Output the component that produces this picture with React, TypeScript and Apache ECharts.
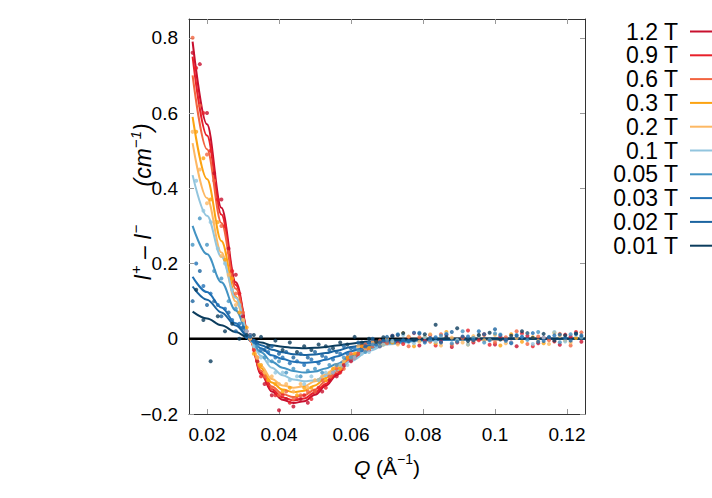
import React, { useEffect, useRef } from 'react';
import * as echarts from 'echarts';

const fields = ['1.2 T', '0.9 T', '0.6 T', '0.3 T', '0.2 T', '0.1 T', '0.05 T', '0.03 T', '0.02 T', '0.01 T'];
const colors = ['#c8102e', '#e8202a', '#f26440', '#fca311', '#fdb863', '#92c5de', '#4393c3', '#2171b5', '#1b64a0', '#0b3c5d'];

const xTicks = [0.02, 0.04, 0.06, 0.08, 0.1, 0.12];
const yTicks = [-0.2, 0, 0.2, 0.4, 0.6, 0.8];

// fitted curves
const fitQ = [0.016, 0.02, 0.024, 0.028, 0.032, 0.035, 0.038, 0.041, 0.044, 0.047, 0.05, 0.053, 0.056, 0.06, 0.065, 0.07, 0.08, 0.09, 0.1, 0.11, 0.125];
const fit12 = [0.79, 0.57, 0.348, 0.15, -0.005, -0.094, -0.14, -0.162, -0.171, -0.166, -0.149, -0.125, -0.097, -0.056, -0.022, -0.009, -0.003, -0.002, -0.001, 0, 0];
const fit09 = [0.75, 0.54, 0.33, 0.143, -0.005, -0.09, -0.134, -0.156, -0.164, -0.159, -0.143, -0.12, -0.093, -0.054, -0.021, -0.008, -0.003, -0.002, -0.001, 0, 0];
const fit06 = [0.7, 0.504, 0.308, 0.133, -0.005, -0.085, -0.127, -0.147, -0.155, -0.15, -0.135, -0.113, -0.088, -0.051, -0.02, -0.008, -0.003, -0.002, -0.001, 0, 0];
const fit03 = [0.59, 0.425, 0.26, 0.112, -0.004, -0.078, -0.116, -0.135, -0.142, -0.138, -0.124, -0.104, -0.081, -0.047, -0.018, -0.007, -0.003, -0.001, -0.001, 0, 0];
const fit02 = [0.52, 0.374, 0.229, 0.099, -0.004, -0.072, -0.107, -0.124, -0.13, -0.126, -0.113, -0.095, -0.074, -0.043, -0.017, -0.007, -0.003, -0.001, -0.001, 0, 0];
const fit01 = [0.435, 0.327, 0.218, 0.109, -0.004, -0.045, -0.077, -0.097, -0.108, -0.113, -0.11, -0.099, -0.084, -0.059, -0.032, -0.015, -0.005, -0.002, -0.001, 0, 0];
const fit005 = [0.3, 0.225, 0.15, 0.075, -0.004, -0.036, -0.061, -0.077, -0.086, -0.09, -0.087, -0.079, -0.067, -0.047, -0.025, -0.012, -0.004, -0.002, -0.001, 0, 0];
const fit003 = [0.165, 0.124, 0.083, 0.041, -0.003, -0.025, -0.044, -0.054, -0.061, -0.064, -0.062, -0.056, -0.047, -0.033, -0.018, -0.008, -0.003, -0.001, 0, 0, 0];
const fit002 = [0.139, 0.104, 0.07, 0.035, -0.002, -0.017, -0.029, -0.036, -0.041, -0.043, -0.042, -0.038, -0.032, -0.022, -0.012, -0.006, -0.002, -0.001, 0, 0, 0];
const fit001 = [0.072, 0.054, 0.036, 0.018, -0.001, -0.01, -0.017, -0.021, -0.024, -0.025, -0.024, -0.022, -0.018, -0.013, -0.007, -0.003, -0.001, 0, 0, 0, 0];

// measured points: two interleaved Q grids
const dotQA = [0.016, 0.018, 0.02, 0.022, 0.024, 0.026, 0.028, 0.03, 0.032, 0.034, 0.036, 0.038, 0.04, 0.042, 0.044, 0.046, 0.048, 0.05, 0.052, 0.054, 0.056, 0.058, 0.06, 0.062, 0.064, 0.066, 0.068, 0.07,
  0.073, 0.076, 0.079, 0.082, 0.085, 0.088, 0.091, 0.094, 0.097, 0.1, 0.103, 0.106, 0.109, 0.112, 0.115, 0.118, 0.121, 0.124];
const dotQB = [0.017, 0.019, 0.021, 0.023, 0.025, 0.027, 0.029, 0.031, 0.033, 0.035, 0.037, 0.039, 0.041, 0.043, 0.045, 0.047, 0.049, 0.051, 0.053, 0.055, 0.057, 0.059, 0.061, 0.063, 0.065, 0.067, 0.069,
  0.0715, 0.0745, 0.0775, 0.0805, 0.0835, 0.0865, 0.0895, 0.0925, 0.0955, 0.0985, 0.1015, 0.1045, 0.1075, 0.1105, 0.1135, 0.1165, 0.1195, 0.1225];

const dots12 = [0.76, 0.73, 0.6, 0.44, 0.37, 0.24, 0.17, 0.06,
  0.01, -0.06, -0.12, -0.15, -0.19, -0.16, -0.18, -0.16, -0.17, -0.14, -0.14, -0.11, -0.1, -0.07, -0.06, -0.04, -0.03, -0.01, -0.02, -0.005,
  -0.012, 0.005, -0.018, 0.01, -0.008, -0.022, 0.004, -0.01, 0.012, -0.015, -0.004, -0.02, 0.008, -0.012, 0.002, -0.016, 0.006, -0.008];
const dots09 = [0.72, 0.6, 0.5, 0.37, 0.3, 0.18, 0.12, 0.02,
  -0.03, -0.1, -0.12, -0.15, -0.15, -0.17, -0.16, -0.15, -0.16, -0.13, -0.13, -0.09, -0.09, -0.05, -0.05, -0.02, -0.03, -0.01, -0.012,
  0.008, -0.014, 0.015, -0.006, -0.018, 0.01, -0.01, 0.022, -0.004, -0.016, 0.006, -0.01, 0.014, -0.02, 0.003, -0.007, 0.011, 0.018];
const dots06 = [0.8, 0.62, 0.49, 0.42, 0.3, 0.23, 0.12, 0.07,
  0.0, -0.05, -0.1, -0.13, -0.15, -0.14, -0.16, -0.15, -0.14, -0.14, -0.11, -0.1, -0.08, -0.08, -0.04, -0.04, -0.015, -0.02, -0.005, -0.012,
  0.01, -0.02, 0.004, -0.008, 0.012, -0.016, 0.002, -0.006, 0.01, -0.01, 0.004, 0.02, -0.014, 0.006, -0.004, 0.013, -0.018, 0.017];
const dots03 = [0.55, 0.48, 0.37, 0.31, 0.21, 0.16, 0.07, 0.03,
  -0.04, -0.07, -0.11, -0.12, -0.14, -0.13, -0.15, -0.13, -0.13, -0.11, -0.11, -0.08, -0.08, -0.05, -0.04, -0.02, -0.025, -0.01, -0.015,
  -0.01, 0.015, -0.02, 0.005, -0.012, 0.018, -0.006, -0.015, 0.009, -0.003, -0.018, 0.012, -0.008, 0.004, -0.012, 0.016, -0.005, 0.002];
const dots02 = [0.55, 0.45, 0.36, 0.31, 0.22, 0.17, 0.09, 0.05,
  0.0, -0.05, -0.09, -0.1, -0.12, -0.12, -0.14, -0.12, -0.13, -0.11, -0.1, -0.09, -0.07, -0.06, -0.05, -0.02, -0.03, -0.01, -0.015, 0.0,
  -0.015, 0.006, -0.008, 0.012, -0.018, 0.003, -0.01, 0.007, -0.004, 0.01, -0.012, 0.002, 0.015, -0.006, -0.014, 0.008, -0.01, 0.004];
const dots01 = [0.42, 0.34, 0.31, 0.24, 0.2, 0.13, 0.09, 0.02,
  -0.02, -0.05, -0.06, -0.09, -0.09, -0.11, -0.1, -0.12, -0.1, -0.11, -0.09, -0.09, -0.07, -0.07, -0.05, -0.04, -0.035, -0.02, -0.015,
  -0.006, 0.01, -0.012, 0.004, -0.008, 0.014, -0.003, -0.015, 0.008, -0.005, 0.012, -0.01, 0.006, -0.014, 0.003, 0.018, -0.007, 0.01];
const dots005 = [0.25, 0.32, 0.25, 0.18, 0.16, 0.1, 0.08, 0.03,
  0.01, -0.02, -0.05, -0.06, -0.06, -0.09, -0.08, -0.1, -0.085, -0.08, -0.09, -0.07, -0.07, -0.05, -0.05, -0.03, -0.035, -0.015, -0.02, -0.005,
  0.012, -0.008, 0.016, -0.004, 0.008, -0.012, 0.02, 0.002, -0.01, 0.014, -0.006, 0.01, -0.003, 0.018, 0.005, -0.009, 0.012, 0.004];
const dots003 = [0.2, 0.14, 0.12, 0.09, 0.08, 0.05, 0.04, 0.005,
  -0.005, -0.03, -0.035, -0.05, -0.05, -0.065, -0.06, -0.07, -0.055, -0.065, -0.05, -0.055, -0.04, -0.04, -0.025, -0.03, -0.01, -0.015, -0.005,
  0.008, -0.004, 0.016, -0.01, 0.004, 0.012, -0.008, 0.006, 0.02, -0.003, 0.01, -0.012, 0.005, 0.015, -0.006, 0.009, 0.002, 0.013];
const dots002 = [0.1, 0.18, 0.09, 0.1, 0.06, 0.07, 0.02, 0.03,
  0.005, -0.01, -0.03, -0.02, -0.04, -0.035, -0.05, -0.04, -0.05, -0.035, -0.045, -0.03, -0.035, -0.02, -0.025, -0.01, -0.02, 0.0, -0.01, 0.005,
  0.01, -0.006, 0.014, 0.002, -0.01, 0.018, 0.006, -0.004, 0.012, 0.025, -0.002, 0.008, 0.015, -0.008, 0.004, 0.011, -0.005, 0.009];
const dots001 = [0.13, 0.05, -0.06, 0.06, 0.02, 0.04, 0.0, 0.01,
  0.01, 0.005, -0.02, -0.005, -0.03, -0.01, -0.035, -0.02, -0.03, -0.015, -0.02, -0.025, -0.01, -0.015, 0.005, -0.01, 0.0, -0.008, 0.004,
  0.006, 0.015, -0.004, 0.012, 0.037, 0.004, 0.028, -0.006, 0.01, 0.016, -0.002, 0.008, 0.02, 0.002, 0.013, -0.005, 0.009, 0.014];

const fits = [fit12, fit09, fit06, fit03, fit02, fit01, fit005, fit003, fit002, fit001];
const dots = [dots12, dots09, dots06, dots03, dots02, dots01, dots005, dots003, dots002, dots001];
const dotGrids = [dotQA, dotQB, dotQA, dotQB, dotQA, dotQB, dotQA, dotQB, dotQA, dotQB];

const FONT = 'Liberation Sans, Arial, Helvetica, sans-serif';

export default function App() {
  const ref = useRef<HTMLDivElement>(null);
  useEffect(() => {
    if (!ref.current) return;
    const chart = echarts.init(ref.current, null, { renderer: 'svg' });
    const fmt = (v: number) => (v < 0 ? '\u2212' + String(Math.abs(v)) : String(v));
    const lineSeries: any[] = fields.map((name, i) => ({
      name,
      type: 'line',
      data: fitQ.map((q, j) => [q, fits[i][j]]),
      showSymbol: false,
      smooth: 0.35,
      smoothMonotone: 'x',
      lineStyle: { color: colors[i], width: 2 },
      itemStyle: { color: colors[i] },
      silent: true,
      z: 3,
    }));
    const dotSeries: any[] = fields.map((name, i) => ({
      name: name + ' data',
      type: 'scatter',
      data: dotGrids[i].map((q, j) => [q, dots[i][j]]),
      symbolSize: 4,
      itemStyle: { color: colors[i] },
      silent: true,
      z: 4,
    }));
    const option: any = {
      animation: false,
      grid: { left: 189, top: 19, width: 396, height: 395 },
      legend: {
        data: fields,
        orient: 'vertical',
        left: 597,
        top: 15,
        align: 'right',
        icon: 'rect',
        itemWidth: 30,
        itemHeight: 2,
        itemGap: 0.8,
        textStyle: { fontSize: 23, fontFamily: FONT, color: '#000', width: 76, align: 'right', lineHeight: 22, padding: [0, 7, 0, 0] },
        selectedMode: false,
      },
      xAxis: [
        {
          type: 'value', min: 0.015, max: 0.125, position: 'bottom',
          axisLine: { show: true, onZero: false, lineStyle: { color: '#333', width: 1 } },
          axisTick: { show: true, inside: true, length: 5, customValues: xTicks, lineStyle: { color: '#999' } },
          axisLabel: { customValues: xTicks, fontSize: 19, fontFamily: FONT, color: '#000', margin: 11, formatter: fmt },
          splitLine: { show: false },
        },
        {
          type: 'value', min: 0.015, max: 0.125, position: 'top',
          axisLine: { show: true, onZero: false, lineStyle: { color: '#333', width: 1 } },
          axisTick: { show: true, inside: true, length: 5, customValues: xTicks, lineStyle: { color: '#999' } },
          axisLabel: { show: false },
          splitLine: { show: false },
        },
      ],
      yAxis: [
        {
          type: 'value', min: -0.2, max: 0.85, position: 'left',
          axisLine: { show: true, onZero: false, lineStyle: { color: '#333', width: 1 } },
          axisTick: { show: true, inside: true, length: 5, customValues: yTicks, lineStyle: { color: '#999' } },
          axisLabel: { customValues: yTicks, fontSize: 19, fontFamily: FONT, color: '#000', margin: 11, formatter: fmt },
          splitLine: { show: false },
        },
        {
          type: 'value', min: -0.2, max: 0.85, position: 'right',
          axisLine: { show: true, onZero: false, lineStyle: { color: '#333', width: 1 } },
          axisTick: { show: true, inside: true, length: 5, customValues: yTicks, lineStyle: { color: '#999' } },
          axisLabel: { show: false },
          splitLine: { show: false },
        },
      ],
      graphic: [
        {
          type: 'text',
          x: 141,
          y: 202,
          rotation: Math.PI / 2,
          style: {
            text: '{i|I}{s|+}{n| \u2013 }{i|I}{s|\u2212}{n|      (cm}{s|\u22121}{n|)}',
            align: 'center',
            verticalAlign: 'middle',
            fill: '#000',
            rich: {
              i: { fontSize: 23, fontStyle: 'italic', fontFamily: FONT, lineHeight: 27, verticalAlign: 'bottom' },
              n: { fontSize: 23, fontStyle: 'italic', fontFamily: FONT, lineHeight: 27, verticalAlign: 'bottom' },
              s: { fontSize: 15, fontStyle: 'italic', fontFamily: FONT, lineHeight: 27, verticalAlign: 'top' },
            },
          },
        },
        {
          type: 'text',
          x: 387,
          y: 465,
          style: {
            text: '{i|Q}{n| (\u00c5}{s|\u22121}{n|)}',
            align: 'center',
            verticalAlign: 'middle',
            fill: '#000',
            rich: {
              i: { fontSize: 21, fontStyle: 'italic', fontFamily: FONT, lineHeight: 26, verticalAlign: 'bottom' },
              n: { fontSize: 21, fontFamily: FONT, lineHeight: 26, verticalAlign: 'bottom' },
              s: { fontSize: 14, fontFamily: FONT, lineHeight: 26, verticalAlign: 'top' },
            },
          },
        },
      ],
      series: [
        {
          name: 'zero',
          type: 'line',
          data: [[0.015, 0], [0.125, 0]],
          showSymbol: false,
          lineStyle: { color: '#000', width: 2.5 },
          silent: true,
          z: 2,
        },
        ...lineSeries,
        ...dotSeries,
      ],
    };
    chart.setOption(option);
    return () => chart.dispose();
  }, []);
  return <div ref={ref} style={{ position: 'fixed', left: 0, top: 0, width: 712, height: 498, background: '#fff' }} />;
}
